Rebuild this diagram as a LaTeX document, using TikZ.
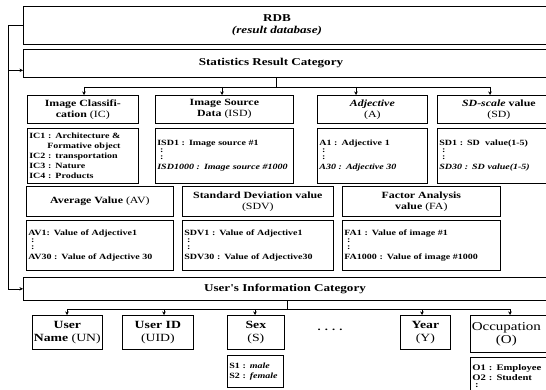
\documentclass[tikz,border=0pt]{standalone}
\usepackage{fontspec}
\setmainfont{Liberation Serif}
\newfontfamily\wf[FakeStretch=1.25]{Liberation Serif}
\usetikzlibrary{arrows.meta}
\tikzset{
  bx/.style={draw, line width=0.7pt, inner sep=0pt, align=center,
    font=\wf\fontsize{9.5}{11}\selectfont\bfseries},
  cbx/.style={draw, line width=0.7pt, inner xsep=2pt, inner ysep=0pt, align=left,
    font=\wf\fontsize{8}{10}\selectfont\bfseries},
  ubx/.style={bx, font=\wf\fontsize{11}{12.5}\selectfont\bfseries},
  lbl/.style={inner sep=0pt, align=center, font=\wf\fontsize{10.5}{13}\selectfont\bfseries},
  ln/.style={line width=0.6pt},
  arr/.style={line width=0.6pt, -{Stealth[length=3.5pt,width=3.5pt]}},
}
\begin{document}
\begin{tikzpicture}[x=1pt,y=1pt]
\useasboundingbox (0,0) rectangle (546,-390);
\clip (0,0) rectangle (546,-390);
% main bands
\node[bx, minimum width=537pt, minimum height=38pt, anchor=north west] (rdb) at (23,-6) {};
\node[lbl] (rdbt) at (277,-25) {RDB\\[-1pt]\textit{(result database)}};
\node[bx, minimum width=537pt, minimum height=28pt, anchor=north west] (stats) at (23,-49) {};
\node[lbl] (statst) at (271,-63) {Statistics Result Category};
\node[bx, minimum width=537pt, minimum height=23pt, anchor=north west] (uic) at (23,-277) {};
\node[lbl] (uict) at (285,-289) {User's Information Category};
% row 1 titles
\node[bx, minimum width=111pt, minimum height=28pt, anchor=north west] (ic) at (27,-95) {Image Classifi-\\cation \textmd{(IC)}};
\node[bx, minimum width=138pt, minimum height=28pt, anchor=north west] (isd) at (155,-95) {Image Source\\Data \textmd{(ISD)}};
\node[bx, minimum width=110pt, minimum height=28pt, anchor=north west] (adj) at (317,-95) {\textit{Adjective}\\\textmd{(A)}};
\node[bx, minimum width=123pt, minimum height=28pt, anchor=north west] (sd) at (437,-95) {\textit{SD-scale} value\\\textmd{(SD)}};
% row 1 contents
\node[cbx, minimum width=111pt, minimum height=55pt, text width=107pt, anchor=north west] (icc) at (27,-128)
  {IC1 : Architecture \&\\\hspace*{18pt}Formative object\\IC2 : transportation\\IC3 : Nature\\IC4 : Products};
\node[cbx, minimum width=138pt, minimum height=55pt, text width=134pt, anchor=north west] (isdc) at (155,-128)
  {ISD1 : Image source \#1\\[-3pt]\ :\\[-3pt]\ :\\\textit{ISD1000 : Image source \#1000}};
\node[cbx, minimum width=110pt, minimum height=55pt, text width=106pt, anchor=north west] (adjc) at (317,-128)
  {A1 : Adjective 1\\[-3pt]\ :\\[-3pt]\ :\\\textit{A30 : Adjective 30}};
\node[cbx, minimum width=123pt, minimum height=55pt, text width=119pt, anchor=north west] (sdc) at (437,-128)
  {SD1 : SD\ \ value(1-5)\\[-3pt]\ :\\[-3pt]\ :\\\textit{SD30 : SD value(1-5)}};
% row 2 titles
\node[bx, minimum width=147pt, minimum height=30pt, anchor=north west] (av) at (26,-186) {Average Value \textmd{(AV)}};
\node[bx, minimum width=151pt, minimum height=30pt, anchor=north west] (sdv) at (182,-186) {Standard Deviation value\\\textmd{(SDV)}};
\node[bx, minimum width=158pt, minimum height=30pt, anchor=north west] (fa) at (342,-186) {Factor Analysis\\value \textmd{(FA)}};
% row 2 contents
\node[cbx, minimum width=147pt, minimum height=50pt, text width=143pt, anchor=north west] (avc) at (26,-220)
  {AV1: Value of Adjective1\\[-3pt]\ :\\[-3pt]\ :\\AV30 : Value of Adjective 30};
\node[cbx, minimum width=151pt, minimum height=50pt, text width=147pt, anchor=north west] (sdvc) at (182,-220)
  {SDV1 : Value of Adjective1\\[-3pt]\ :\\[-3pt]\ :\\SDV30 : Value of Adjective30};
\node[cbx, minimum width=158pt, minimum height=50pt, text width=154pt, anchor=north west] (fac) at (342,-220)
  {FA1 : Value of image \#1\\[-3pt]\ :\\[-3pt]\ :\\FA1000 : Value of image \#1000};
% user row
\node[ubx, minimum width=70pt, minimum height=34pt, anchor=north west] (un) at (32,-315) {User\\Name \textmd{(UN)}};
\node[ubx, minimum width=71pt, minimum height=34pt, anchor=north west] (uid) at (122,-315) {User ID\\\textmd{(UID)}};
\node[ubx, minimum width=57pt, minimum height=34pt, anchor=north west] (sex) at (227,-315) {Sex\\\textmd{(S)}};
\node[ubx, minimum width=50pt, minimum height=34pt, anchor=north west] (yr) at (400,-315) {Year\\\textmd{(Y)}};
\node[ubx, minimum width=90pt, minimum height=37pt, anchor=north west, font=\wf\fontsize{12}{13}\selectfont] (occ) at (470,-315) {\hspace*{-18pt}Occupation\\\hspace*{-18pt}(O)};
\node[lbl, font=\wf\fontsize{10}{12}\selectfont\bfseries] (dots) at (330,-330) {. . . .};
\node[cbx, minimum width=56pt, minimum height=32pt, text width=52pt, anchor=north west] (sexc) at (227,-355)
  {S1 : \textit{male}\\S2 : \textit{female}};
\node[cbx, minimum width=90pt, minimum height=40pt, text width=86pt, anchor=north west, font=\wf\fontsize{8.5}{10}\selectfont\bfseries] (occc) at (470,-357)
  {\\[-7pt]O1 : Employee\\O2 : Student\\[-3pt]\ :\\[6pt]};
% left spine
\coordinate (lx) at (8,0);
\draw[ln] (rdb.west) -- (rdb.west -| lx) -- (uic.west -| lx);
\draw[arr] ([yshift=-7pt]stats.west -| lx) -- ([yshift=-7pt]stats.west);
\draw[arr] (uic.west -| lx) -- (uic.west);
% statistics branches
\coordinate (sj) at (276,-87);
\coordinate (s1) at (84,-87);
\coordinate (s2) at (222,-87);
\coordinate (s3) at (356,-87);
\coordinate (s4) at (490,-87);
\draw[ln] (sj |- stats.south) -- (sj);
\draw[ln] (s1) -- (s4);
\draw[arr] (s1) -- (s1 |- ic.north);
\draw[arr] (s2) -- (s2 |- isd.north);
\draw[arr] (s3) -- (s3 |- adj.north);
\draw[arr] (s4) -- (s4 |- sd.north);
% user branches
\coordinate (uj) at (287,-309);
\coordinate (u1) at (67,-309);
\coordinate (u2) at (164,-309);
\coordinate (u3) at (255,-309);
\coordinate (u4) at (422,-309);
\coordinate (u5) at (510,-309);
\draw[ln] (uj |- uic.south) -- (uj);
\draw[ln] (u1) -- (u5);
\draw[arr] (u1) -- (u1 |- un.north);
\draw[arr] (u2) -- (u2 |- uid.north);
\draw[arr] (u3) -- (u3 |- sex.north);
\draw[arr] (u4) -- (u4 |- yr.north);
\draw[arr] (u5) -- (u5 |- occ.north);
\end{tikzpicture}
\end{document}
